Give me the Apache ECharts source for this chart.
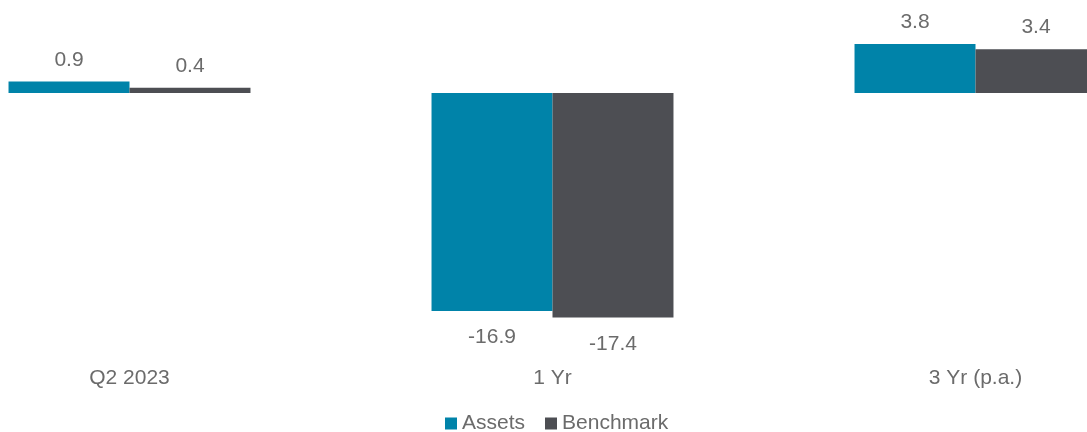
<!DOCTYPE html>
<html>
<head>
<meta charset="utf-8">
<script src="https://cdn.jsdelivr.net/npm/echarts@6/dist/echarts.min.js"></script>
<style>
html,body{margin:0;padding:0;background:#fff;overflow:hidden;width:1087px;height:432px;position:relative;}
#c{width:1269px;height:432px;position:absolute;left:-82.5px;top:0;}
</style>
</head>
<body>
<div id="c"></div>
<script>
const categories = ['Q2 2023', '1 Yr', '3 Yr (p.a.)'];
const assets = [0.9, -16.9, 3.8];
const benchmark = [0.4, -17.4, 3.4];
const seriesNames = ['Assets', 'Benchmark'];
const colors = ['#0083A9', '#4D4E53'];
const textColor = '#6b6b6b';
const font = 'Liberation Sans, Arial, sans-serif';

function withLabels(arr) {
  return arr.map(v => ({
    value: v,
    label: { position: v >= 0 ? 'top' : 'bottom', distance: v >= 0 ? 11 : 16 }
  }));
}

const chart = echarts.init(document.getElementById('c'));
chart.setOption({
  animation: false,
  color: colors,
  grid: { left: 0, right: 0, top: 28.5, height: 322.5 },
  legend: {
    top: 408,
    left: 522,
    itemWidth: 12,
    itemHeight: 12,
    itemGap: 20,
    icon: 'rect',
    textStyle: { color: textColor, fontSize: 21, fontFamily: font },
    data: seriesNames
  },
  xAxis: {
    type: 'category',
    data: categories,
    axisLine: { show: false },
    axisTick: { show: false },
    axisLabel: { color: textColor, fontSize: 21, fontFamily: font, margin: 17 }
  },
  yAxis: {
    type: 'value',
    min: -20, max: 5, interval: 5,
    show: false,
    splitLine: { show: false }
  },
  series: [
    {
      name: seriesNames[0], type: 'bar', data: withLabels(assets),
      barGap: 0, barCategoryGap: '42.8%',
      label: { show: true, color: textColor, fontSize: 21, fontFamily: font }
    },
    {
      name: seriesNames[1], type: 'bar', data: withLabels(benchmark),
      barGap: 0, barCategoryGap: '42.8%',
      label: { show: true, color: textColor, fontSize: 21, fontFamily: font }
    }
  ]
});
</script>
</body>
</html>
